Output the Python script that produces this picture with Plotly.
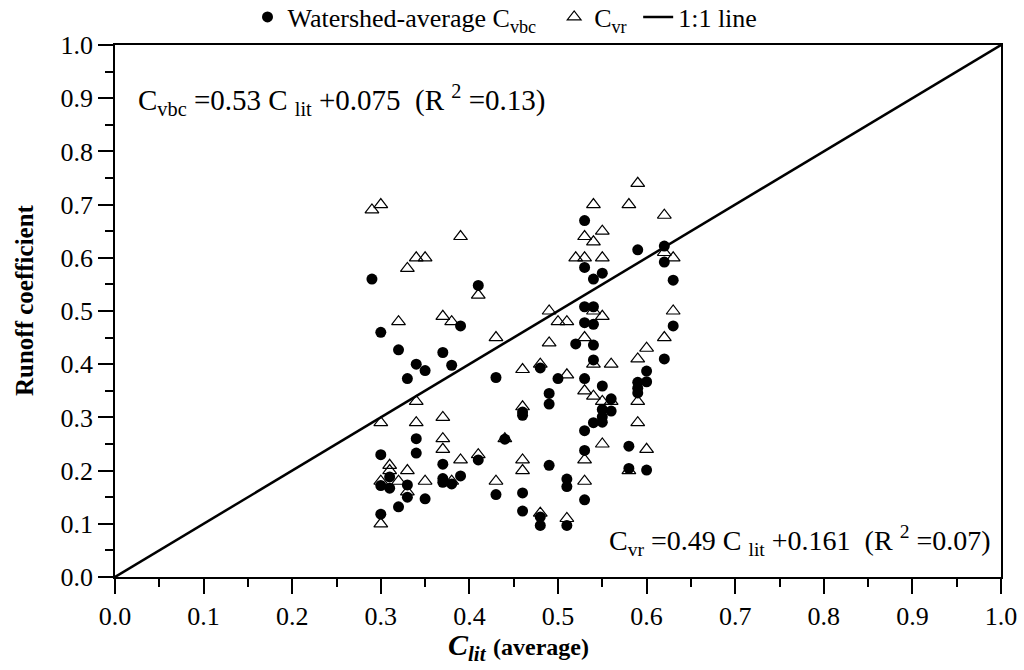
import plotly.graph_objects as go

# ---- data ----
vbc_x = [0.29,
         0.30, 0.30, 0.30, 0.30,
         0.31, 0.31,
         0.32, 0.32,
         0.33, 0.33, 0.33,
         0.34, 0.34, 0.34,
         0.35, 0.35,
         0.37, 0.37, 0.37, 0.37,
         0.38, 0.38,
         0.39, 0.39,
         0.41, 0.41,
         0.43, 0.43,
         0.44,
         0.46, 0.46, 0.46, 0.46,
         0.48, 0.48, 0.48,
         0.49, 0.49, 0.49,
         0.50,
         0.51, 0.51, 0.51,
         0.52,
         0.53, 0.53, 0.53, 0.53, 0.53, 0.53, 0.53, 0.53,
         0.54, 0.54, 0.54, 0.54, 0.54, 0.54,
         0.55, 0.55, 0.55, 0.55, 0.55,
         0.56, 0.56,
         0.58, 0.58,
         0.59, 0.59, 0.59, 0.59,
         0.60, 0.60, 0.60,
         0.62, 0.62, 0.62,
         0.63, 0.63]
vbc_y = [0.56,
         0.46, 0.23, 0.172, 0.118,
         0.188, 0.167,
         0.427, 0.132,
         0.373, 0.173, 0.15,
         0.40, 0.26, 0.233,
         0.388, 0.147,
         0.422, 0.212, 0.185, 0.178,
         0.398, 0.175,
         0.472, 0.19,
         0.548, 0.22,
         0.375, 0.155,
         0.259,
         0.31, 0.304, 0.158, 0.124,
         0.393, 0.113, 0.097,
         0.345, 0.325, 0.21,
         0.373,
         0.184, 0.17, 0.097,
         0.438,
         0.67, 0.582, 0.508, 0.478, 0.373, 0.275, 0.238, 0.145,
         0.56, 0.508, 0.475, 0.436, 0.408, 0.29,
         0.571, 0.359, 0.315, 0.301, 0.291,
         0.335, 0.312,
         0.246, 0.204,
         0.615, 0.366, 0.355, 0.346,
         0.387, 0.367, 0.201,
         0.622, 0.592, 0.41,
         0.558, 0.472]

vr_x = [0.29,
        0.30, 0.30, 0.30, 0.30,
        0.31, 0.31,
        0.32, 0.32,
        0.33, 0.33, 0.33,
        0.34, 0.34, 0.34,
        0.35, 0.35,
        0.37, 0.37, 0.37, 0.37,
        0.38, 0.38,
        0.39, 0.39,
        0.41, 0.41,
        0.43, 0.43,
        0.44,
        0.46, 0.46, 0.46, 0.46,
        0.48, 0.48,
        0.49, 0.49,
        0.50,
        0.51, 0.51, 0.51,
        0.52,
        0.53, 0.53, 0.53, 0.53, 0.53, 0.53,
        0.54, 0.54, 0.54, 0.54, 0.54,
        0.55, 0.55, 0.55, 0.55, 0.55,
        0.56, 0.56,
        0.58, 0.58,
        0.59, 0.59, 0.59, 0.59,
        0.60, 0.60,
        0.62, 0.62, 0.62,
        0.63, 0.63]
vr_y = [0.69,
        0.70, 0.29, 0.18, 0.10,
        0.21, 0.20,
        0.48, 0.18,
        0.58, 0.20, 0.16,
        0.60, 0.33, 0.29,
        0.60, 0.18,
        0.49, 0.30, 0.26, 0.24,
        0.48, 0.18,
        0.64, 0.22,
        0.53, 0.23,
        0.45, 0.18,
        0.26,
        0.39, 0.32, 0.22, 0.20,
        0.40, 0.12,
        0.50, 0.44,
        0.48,
        0.48, 0.38, 0.11,
        0.60,
        0.64, 0.60, 0.45, 0.35, 0.22, 0.18,
        0.70, 0.63, 0.50, 0.40, 0.34,
        0.65, 0.60, 0.49, 0.33, 0.25,
        0.40, 0.33,
        0.70, 0.20,
        0.74, 0.41, 0.33, 0.29,
        0.43, 0.24,
        0.68, 0.61, 0.45,
        0.60, 0.50]

line_x = [0.0, 1.0]
line_y = [0.0, 1.0]

FONT = "Liberation Serif, Times New Roman, Times, serif"

fig = go.Figure()
fig.add_trace(go.Scatter(
    x=vbc_x, y=vbc_y, mode="markers",
    name="Watershed-average C<sub>vbc</sub>&nbsp;&nbsp;",
    marker=dict(symbol="circle", size=11, color="black", line=dict(width=0)),
))
fig.add_trace(go.Scatter(
    x=vr_x, y=vr_y, mode="markers",
    name="C<sub>vr</sub>&nbsp;",
    marker=dict(symbol="triangle-up-open", size=12, color="black", line=dict(width=1.2)),
))
fig.add_trace(go.Scatter(
    x=line_x, y=line_y, mode="lines", name="1:1 line",
    line=dict(color="black", width=2.5),
))

axis_common = dict(
    range=[0, 1], dtick=0.1, tickformat=".1f",
    showgrid=False, zeroline=False,
    showline=True, linecolor="black", linewidth=1.5, mirror=True,
    ticks="outside", ticklen=15, tickwidth=1.5, tickcolor="black",
    tickfont=dict(family=FONT, size=26, color="black"),
    minor=dict(dtick=0.05, ticks="outside", ticklen=8, tickwidth=1.5, tickcolor="black", showgrid=False),
)

fig.update_layout(
    width=1024, height=670,
    margin=dict(l=115, r=23, t=45, b=93, autoexpand=False),
    paper_bgcolor="white", plot_bgcolor="white",
    font=dict(family=FONT, color="black"),
    xaxis=dict(**axis_common),
    yaxis=dict(**axis_common),
    showlegend=True,
    legend=dict(orientation="h", xref="container", yref="container",
                x=505 / 1024, xanchor="center", y=1 - 17 / 670, yanchor="middle",
                font=dict(family=FONT, size=26, color="black"),
                bgcolor="rgba(0,0,0,0)", itemwidth=30, tracegroupgap=0),
)

fig.add_annotation(
    xref="paper", yref="paper", x=(136 - 115) / 886, y=(577 - 100) / 532,
    xanchor="left", yanchor="middle", showarrow=False,
    text="C<sub>vbc</sub> =0.53 C <sub>lit</sub> +0.075  (R <sup>2</sup> =0.13)",
    font=dict(family=FONT, size=29, color="black"),
)
fig.add_annotation(
    xref="paper", yref="paper", x=(993 - 115) / 886, y=(577 - 540) / 532,
    xanchor="right", yanchor="middle", showarrow=False,
    text="C<sub>vr</sub> =0.49 C <sub>lit</sub> +0.161  (R <sup>2</sup> =0.07)",
    font=dict(family=FONT, size=28, color="black"),
)
fig.add_annotation(
    xref="paper", yref="paper", x=(518 - 115) / 886, y=(577 - 647) / 532,
    xanchor="center", yanchor="middle", showarrow=False,
    text="<b><i>C</i><sub><i>lit</i></sub> <span style='font-size:24px'>(average)</span></b>",
    font=dict(family=FONT, size=30, color="black"),
)
fig.add_annotation(
    xref="paper", yref="paper", x=(24 - 115) / 886, y=(577 - 300) / 532,
    xanchor="center", yanchor="middle", showarrow=False, textangle=-90,
    text="<b>Runoff coefficient</b>",
    font=dict(family=FONT, size=25, color="black"),
)

fig.write_html("out.html", config={"displayModeBar": False},
               post_script="document.body.style.margin='0';document.body.style.padding='0';")
